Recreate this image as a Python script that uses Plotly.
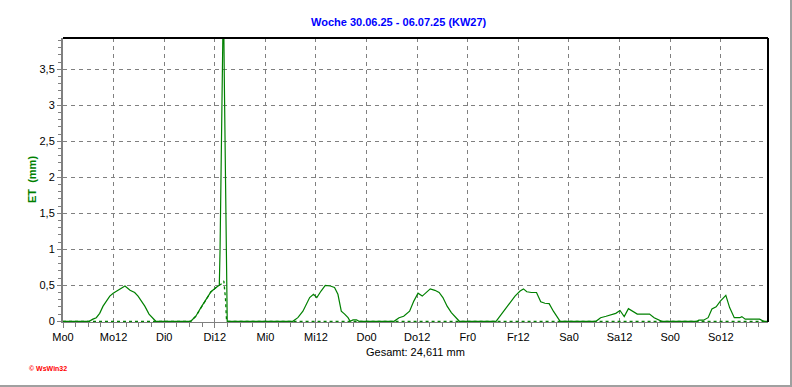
import numpy as np
import plotly.graph_objects as go

# ---------------- data ----------------
title_text = "Woche 30.06.25 - 06.07.25 (KW27)"
x_tick_hours = [0, 12, 24, 36, 48, 60, 72, 84, 96, 108, 120, 132, 144, 156]
x_tick_labels = ["Mo0", "Mo12", "Di0", "Di12", "Mi0", "Mi12", "Do0", "Do12",
                 "Fr0", "Fr12", "Sa0", "Sa12", "So0", "So12"]
y_tick_values = [0, 0.5, 1, 1.5, 2, 2.5, 3, 3.5]
y_tick_labels = ["0", "0,5", "1", "1,5", "2", "2,5", "3", "3,5"]

# ET (mm), hours since Monday 0:00
hours = [0, 6.2, 7.1, 7.9, 8.7, 9.5, 10.3, 11.1, 11.9, 12.7, 13.5, 14.7, 15.9, 17.0, 17.8, 18.6, 19.4, 20.4, 21.4, 22.0,
         30.3, 31.5, 32.7, 33.9, 35.1, 36.3, 37.07, 37.25, 37.45, 37.65, 37.85, 38.05, 38.25, 38.45, 38.65, 38.85, 38.95,
         54.5, 55.7, 56.9, 58.5, 59.4, 60.2, 61.2, 62.2, 63.4, 64.4, 65.2, 66.0, 66.8, 67.6, 68.1, 68.8, 69.6, 70.2,
         78.5, 79.7, 80.8, 81.4, 82.2, 83.2, 84.2, 85.2, 86.2, 87.1, 88.2, 89.2, 90.1, 91.1, 92.1, 93.2, 94.0,
         102.7, 103.6, 104.8, 106.0, 107.2, 108.4, 109.2, 110.0, 111.1, 112.3, 113.3, 114.3, 115.3, 116.3, 117.2, 117.9,
         126.4, 127.5, 128.8, 129.9, 131.1, 132.1, 133.1, 134.1, 135.1, 136.2, 137.7, 139.1, 140.2, 141.6, 142.0,
         150.4, 150.8, 151.9, 153.0, 153.9, 154.9, 155.9, 157.2, 158.1, 159.2, 160.5, 161.0, 161.8, 163.4, 165.2, 166.2, 167.5]
et = [0, 0, 0.03, 0.05, 0.11, 0.21, 0.28, 0.35, 0.39, 0.42, 0.44, 0.49, 0.43, 0.40, 0.35, 0.28, 0.21, 0.10, 0.03, 0,
      0, 0.07, 0.19, 0.31, 0.41, 0.47, 0.50, 1.0, 1.8, 2.6, 3.5, 4.6, 3.4, 2.4, 1.5, 0.5, 0,
      0, 0.05, 0.14, 0.33, 0.375, 0.33, 0.42, 0.50, 0.49, 0.47, 0.375, 0.14, 0.10, 0.05, 0, 0.02, 0.02, 0,
      0, 0.05, 0.07, 0.10, 0.14, 0.28, 0.39, 0.35, 0.40, 0.45, 0.43, 0.40, 0.33, 0.21, 0.12, 0.05, 0,
      0, 0.07, 0.17, 0.26, 0.35, 0.42, 0.45, 0.41, 0.40, 0.40, 0.27, 0.25, 0.245, 0.14, 0.05, 0,
      0, 0.05, 0.07, 0.09, 0.11, 0.15, 0.065, 0.175, 0.135, 0.10, 0.10, 0.10, 0.05, 0.01, 0,
      0, 0.015, 0.015, 0.05, 0.17, 0.20, 0.28, 0.36, 0.19, 0.05, 0.05, 0.065, 0.03, 0.03, 0.03, 0, 0]

# secondary (dotted) series around the Tuesday anomaly
ref_hours = [0, 30.3, 31.5, 32.7, 33.9, 35.1, 36.3, 37.07, 37.6, 38.15, 38.35, 38.55, 38.7, 38.8, 167.5]
ref_et = [0, 0, 0.07, 0.19, 0.31, 0.41, 0.47, 0.50, 0.52, 0.56, 0.45, 0.30, 0.10, 0, 0]

gesamt_text = "Gesamt: 24,611 mm"

# ---------------- figure ----------------
GREEN = "#008000"
FONT = "Liberation Sans"

fig = go.Figure()
fig.add_trace(go.Scatter(x=ref_hours, y=ref_et, mode="lines",
                         line=dict(color=GREEN, width=1.3, dash="dot"), hoverinfo="skip"))
fig.add_trace(go.Scatter(x=hours, y=et, mode="lines",
                         line=dict(color=GREEN, width=1.2)))

L, R, T, B = 63, 24, 38, 65
W, H = 792, 387
pw, ph = W - L - R, H - T - B

fig.update_layout(
    width=W, height=H,
    margin=dict(l=L, r=R, t=T, b=B, pad=0),
    paper_bgcolor="white", plot_bgcolor="white",
    showlegend=False,
    font=dict(family=FONT, size=11, color="black"),
)

fig.update_xaxes(
    range=[0, 167.2],
    tickmode="array", tickvals=x_tick_hours, ticktext=x_tick_labels,
    ticks="outside", ticklen=5, tickcolor="#808080", tickwidth=1,
    showgrid=True, gridcolor="#808080", griddash="4px,4px", gridwidth=1,
    showline=True, linecolor="#808080", linewidth=1,
    zeroline=False,
    minor=dict(dtick=3, tick0=0, ticks="outside", ticklen=4, tickcolor="#808080", showgrid=False),
    tickfont=dict(family=FONT, size=11, color="black"),
)
fig.update_yaxes(
    range=[-0.01, 3.935],
    tickmode="array", tickvals=y_tick_values, ticktext=y_tick_labels,
    ticks="outside", ticklen=4, tickcolor="#808080", tickwidth=1,
    showgrid=True, gridcolor="#808080", griddash="4px,4px", gridwidth=1,
    showline=True, linecolor="#808080", linewidth=2,
    zeroline=False,
    minor=dict(dtick=0.1, tick0=0, ticks="outside", ticklen=3, tickcolor="#808080", showgrid=False),
    tickfont=dict(family=FONT, size=11, color="black"),
)

def px_x(px):
    return (px - L) / pw

def px_y(py):
    return (H - B - py) / ph

shapes = [
    # top and right black frame of plot area
    dict(type="line", xref="paper", yref="paper", x0=0, x1=1, y0=1, y1=1,
         line=dict(color="black", width=2)),
    dict(type="line", xref="paper", yref="paper", x0=1, x1=1, y0=0, y1=1,
         line=dict(color="black", width=2)),
    # outer gray frame (bottom and right)
    dict(type="line", xref="paper", yref="paper", x0=px_x(0), x1=px_x(792), y0=px_y(386), y1=px_y(386),
         line=dict(color="#a0a0a0", width=2)),
    dict(type="line", xref="paper", yref="paper", x0=px_x(791), x1=px_x(791), y0=px_y(0), y1=px_y(387),
         line=dict(color="#a0a0a0", width=2)),
]
fig.update_layout(shapes=shapes)

annotations = [
    dict(text="<b>" + title_text + "</b>", xref="paper", yref="paper",
         x=px_x(399), y=px_y(22), xanchor="center", yanchor="middle", showarrow=False,
         font=dict(family=FONT, size=11, color="#0000ff")),
    dict(text="<b>ET  (mm)</b>", xref="paper", yref="paper",
         x=px_x(32), y=px_y(180), xanchor="center", yanchor="middle", showarrow=False,
         textangle=-90, font=dict(family=FONT, size=11, color=GREEN)),
    dict(text=gesamt_text, xref="paper", yref="paper",
         x=px_x(415), y=px_y(352), xanchor="center", yanchor="middle", showarrow=False,
         font=dict(family=FONT, size=11, color="black")),
    dict(text="<b>\u00a9 WsWin32</b>", xref="paper", yref="paper",
         x=px_x(27), y=px_y(368), xanchor="left", yanchor="middle", showarrow=False,
         font=dict(family=FONT, size=7, color="#ff0000")),
]
fig.update_layout(annotations=annotations)

fig.write_html("out.html")
